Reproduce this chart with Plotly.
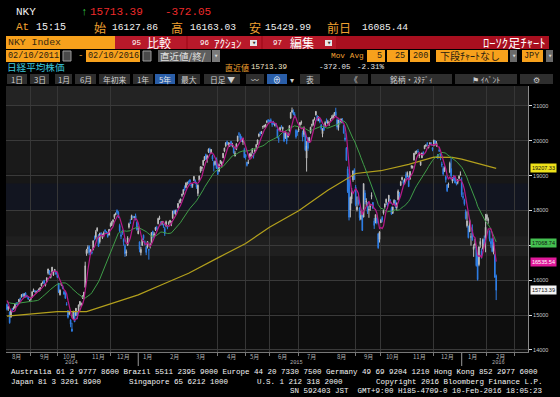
import pandas as pd
import plotly.graph_objects as go

# ---------------- DATA: Nikkei 225 daily (day, open, high, low, close) ----------------
m2014_08 = [(6,15300,15330,15130,15160),(7,15190,15260,15120,15232),(8,15080,15110,14753,14778),
 (11,14950,15140,14920,15130),(12,15180,15200,15100,15161),(13,15180,15250,15150,15213),(14,15200,15330,15190,15314),
 (15,15330,15370,15280,15318),(18,15350,15360,15260,15322),(19,15380,15460,15360,15449),(20,15490,15500,15410,15454),
 (21,15520,15600,15500,15586),(22,15600,15620,15510,15539),(25,15540,15630,15500,15613),(26,15640,15650,15500,15521),
 (27,15540,15580,15500,15534),(28,15510,15520,15430,15459),(29,15420,15440,15380,15425)]
m2014_09 = [(1,15450,15500,15410,15476),(2,15520,15680,15500,15668),(3,15700,15760,15660,15728),(4,15700,15710,15640,15676),
 (5,15650,15700,15620,15668),(8,15710,15720,15650,15705),(9,15680,15760,15670,15749),(10,15720,15800,15700,15788),
 (11,15830,15920,15820,15909),(12,15930,15960,15890,15948),(16,15990,16010,15880,15911),(17,15860,15900,15820,15888),
 (18,15960,16080,15940,16067),(19,16200,16330,16160,16321),(22,16270,16290,16150,16205),(24,16080,16190,16050,16167),
 (25,16240,16380,16210,16374),(26,16150,16260,16120,16229),(29,16270,16320,16230,16310),(30,16230,16270,16150,16173)]
m2014_10 = [(1,16150,16200,16060,16082),(2,15910,15920,15630,15661),(3,15580,15740,15560,15708),(6,15860,15920,15830,15890),
 (7,15830,15860,15740,15783),(8,15670,15700,15590,15595),(9,15640,15670,15470,15478),(10,15320,15370,15270,15300),
 (14,15120,15140,14900,14936),(15,15040,15120,15000,15073),(16,14860,14880,14650,14738),(17,14600,14780,14529,14532),
 (20,14890,15120,14880,15111),(21,15060,15080,14800,14804),(22,14990,15200,14970,15195),(23,15080,15090,14880,14983),
 (24,15120,15300,15080,15291),(27,15300,15400,15240,15388),(28,15280,15360,15250,15329),(29,15490,15560,15460,15553),
 (30,15540,15660,15450,15658),(31,15800,16530,15780,16413)]
m2014_11 = [(4,16760,16900,16700,16862),(5,16900,17000,16770,16937),(6,16970,17000,16720,16792),(7,16800,16890,16720,16880),
 (10,16810,16850,16740,16780),(11,16870,17150,16860,17124),(12,17200,17280,17140,17197),(13,17230,17440,17170,17392),
 (14,17420,17520,17390,17490),(17,17280,17320,16950,16973),(18,17100,17360,17050,17344),(19,17340,17380,17260,17288),
 (20,17220,17340,17180,17300),(21,17320,17400,17280,17357),(25,17430,17460,17360,17407),(26,17390,17410,17330,17383),
 (27,17360,17380,17220,17248),(28,17300,17460,17280,17459)]
m2014_12 = [(1,17570,17650,17520,17590),(2,17570,17700,17550,17663),(3,17680,17750,17620,17720),(4,17800,17890,17750,17887),
 (5,17880,17940,17860,17920),(8,18000,18030,17900,17935),(9,17950,17980,17780,17813),(10,17570,17620,17380,17412),
 (11,17300,17370,17180,17257),(12,17400,17450,17300,17371),(15,17170,17200,16990,17099),(16,16990,17030,16670,16755),
 (17,16780,16880,16690,16819),(18,17000,17260,16990,17210),(19,17520,17650,17480,17621),(22,17660,17750,17620,17635),
 (24,17740,17880,17730,17854),(25,17820,17850,17780,17808),(26,17800,17830,17770,17818),(29,17850,17910,17720,17729),
 (30,17660,17690,17420,17450)]
m2015_01 = [(5,17330,17540,17320,17408),(6,17100,17110,16800,16883),(7,16790,16950,16710,16885),(8,17000,17200,16980,17167),
 (9,17290,17310,17150,17197),(13,17090,17140,17000,17087),(14,16940,16980,16720,16795),(15,16950,17120,16910,17108),
 (16,16880,16900,16590,16864),(19,17000,17080,16910,17014),(20,17100,17370,17070,17366),(21,17400,17420,17200,17280),
 (22,17250,17380,17220,17329),(23,17450,17530,17410,17511),(26,17510,17560,17430,17468),(27,17620,17790,17600,17768),
 (28,17760,17850,17730,17795),(29,17650,17690,17560,17606),(30,17640,17700,17580,17674)]
m2015_02 = [(2,17580,17620,17500,17558),(3,17480,17530,17270,17335),(4,17560,17710,17530,17678),(5,17520,17580,17460,17504),
 (6,17620,17690,17580,17648),(9,17660,17730,17640,17711),(10,17620,17700,17550,17652),(12,17780,17990,17760,17979),
 (13,17990,18020,17890,17913),(16,17910,18020,17860,18004),(17,17990,18030,17950,17987),(18,18080,18210,18060,18199),
 (19,18230,18310,18200,18264),(20,18270,18340,18210,18332),(23,18430,18480,18380,18466),(24,18470,18610,18460,18603),
 (25,18670,18720,18570,18585),(26,18660,18810,18640,18785),(27,18790,18830,18720,18797)]
m2015_03 = [(2,18830,18860,18750,18826),(3,18880,18890,18760,18815),(4,18740,18770,18650,18703),(5,18720,18780,18650,18751),
 (6,18860,18990,18850,18971),(9,18860,18890,18750,18790),(10,18740,18820,18620,18665),(11,18490,18750,18410,18723),
 (12,18870,19000,18830,18991),(13,19120,19270,19080,19254),(16,19200,19260,19130,19246),(17,19300,19450,19280,19437),
 (18,19450,19560,19420,19544),(19,19600,19630,19450,19476),(20,19460,19600,19370,19560),(23,19680,19780,19650,19754),
 (24,19760,19800,19640,19713),(25,19650,19760,19640,19746),(26,19560,19600,19420,19471),(27,19380,19430,19120,19285),
 (30,19320,19430,19290,19411),(31,19470,19520,19190,19206)]
m2015_04 = [(1,19150,19340,19030,19034),(2,19130,19350,19100,19312),(3,19360,19440,19340,19435),(6,19280,19400,19260,19397),
 (7,19510,19650,19500,19640),(8,19700,19800,19670,19789),(9,19850,19960,19810,19937),(10,19970,20006,19880,19907),
 (13,19890,19960,19840,19905),(14,19880,19950,19820,19908),(15,19980,19990,19840,19869),(16,19870,19940,19810,19885),
 (17,19800,19820,19630,19652),(20,19560,19700,19550,19634),(21,19750,19930,19730,19909),(22,19990,20140,19960,20133),
 (23,20200,20250,20090,20187),(24,20170,20200,20000,20020),(27,20080,20130,19970,19983),(28,19960,20070,19880,20058),
 (30,19750,19800,19500,19520)]
m2015_05 = [(1,19600,19620,19460,19531),(7,19380,19400,19260,19291),(8,19360,19460,19330,19379),(11,19500,19640,19480,19620),
 (12,19560,19670,19540,19624),(13,19660,19790,19630,19764),(14,19610,19650,19490,19570),(15,19690,19780,19640,19732),
 (18,19810,19900,19770,19890),(19,19900,20030,19890,20026),(20,20130,20200,20100,20196),(21,20240,20260,20140,20202),
 (22,20230,20280,20190,20264),(25,20400,20420,20340,20413),(26,20410,20450,20370,20437),(27,20400,20480,20380,20472),
 (28,20530,20590,20500,20551),(29,20600,20620,20510,20563)]
m2015_06 = [(1,20580,20600,20520,20569),(2,20600,20640,20530,20543),(3,20500,20550,20400,20473),(4,20510,20570,20460,20488),
 (5,20440,20510,20410,20460),(8,20470,20510,20380,20457),(9,20330,20350,20070,20096),(10,20060,20130,19940,20046),
 (11,20290,20400,20260,20382),(12,20410,20450,20350,20407),(15,20330,20400,20280,20387),(16,20220,20260,19960,19991),
 (17,20080,20250,20050,20219),(18,20120,20200,19900,19990),(19,20110,20240,20090,20174),(22,20280,20450,20260,20428),
 (23,20650,20810,20630,20809),(24,20820,20952,20800,20868),(25,20830,20900,20740,20772),(26,20760,20820,20650,20706),
 (29,20300,20330,20060,20110),(30,20280,20290,20140,20236)]
m2015_07 = [(1,20300,20410,20250,20329),(2,20450,20530,20410,20522),(3,20520,20580,20460,20539),(6,20230,20290,19980,20112),
 (7,20180,20410,20110,20376),(8,20240,20260,19700,19737),(9,19500,19990,19115,19855),(10,20090,20100,19710,19779),
 (13,19970,20110,19940,20089),(14,20230,20400,20200,20385),(15,20440,20490,20390,20463),(16,20470,20610,20430,20600),
 (17,20640,20670,20580,20650),(21,20740,20850,20720,20841),(22,20710,20730,20560,20593),(23,20630,20700,20560,20683),
 (24,20620,20640,20500,20544),(27,20450,20480,20300,20350),(28,20200,20360,20100,20329),(29,20400,20460,20280,20303),
 (30,20420,20560,20400,20522),(31,20600,20640,20500,20585)]
m2015_08 = [(3,20500,20600,20480,20548),(4,20500,20560,20420,20520),(5,20600,20650,20560,20614),(6,20660,20730,20620,20664),
 (7,20650,20760,20620,20724),(10,20750,20820,20700,20808),(11,20830,20946,20700,20720),(12,20600,20640,20320,20392),
 (13,20380,20600,20290,20595),(14,20560,20600,20460,20519),(17,20530,20640,20500,20620),(18,20600,20650,20500,20554),
 (19,20440,20460,20200,20222),(20,20080,20220,19980,20033),(21,19790,19820,19430,19435),(24,19190,19260,18500,18540),
 (25,18880,19060,17714,17806),(26,18010,18400,17800,18376),(27,18330,18640,18200,18574),(28,18880,19140,18820,19136),
 (31,19170,19210,18880,18890)]
m2015_09 = [(1,18670,18730,18120,18165),(2,18020,18400,17970,18095),(3,18300,18410,18140,18182),(4,18070,18090,17710,17792),
 (7,17750,17990,17720,17860),(8,17900,17950,17410,17427),(9,17810,18770,17800,18770),(10,18500,18580,18180,18299),
 (11,18240,18350,18130,18264),(14,18150,18240,17900,17965),(15,18010,18120,17790,18026),(16,18100,18190,17990,18171),
 (17,18400,18520,18320,18432),(18,18230,18240,18040,18070),(24,17700,17780,17470,17571),(25,17690,17880,17630,17880),
 (28,17780,17790,17600,17645),(29,17330,17350,16901,16930),(30,17170,17400,17080,17388)]
m2015_10 = [(1,17650,17760,17640,17722),(2,17800,17840,17660,17725),(5,17920,18030,17880,18005),(6,18100,18200,18050,18186),
 (7,18230,18340,18160,18322),(8,18180,18230,18050,18141),(9,18250,18440,18230,18438),(13,18300,18330,18190,18234),
 (14,18060,18110,17880,17891),(15,17920,18110,17900,18097),(16,18200,18320,18180,18291),(19,18280,18300,18060,18131),
 (20,18080,18230,18000,18207),(21,18310,18600,18290,18554),(22,18470,18530,18340,18435),(23,18720,18850,18700,18825),
 (26,18890,18970,18860,18947),(27,18840,18880,18720,18777),(28,18800,18920,18750,18903),(29,19030,19110,18900,18935),
 (30,19000,19120,18960,19083)]
m2015_11 = [(2,18990,19000,18680,18683),(4,18900,19130,18880,19116),(5,19250,19300,19200,19265),(6,19230,19290,19200,19265),
 (9,19450,19650,19430,19642),(10,19660,19710,19600,19671),(11,19680,19720,19620,19697),(12,19700,19760,19650,19691),
 (13,19560,19640,19500,19596),(16,19300,19420,19280,19393),(17,19510,19660,19500,19649),(18,19650,19700,19580,19649),
 (19,19770,19870,19760,19859),(20,19850,19900,19820,19879),(24,19940,19950,19850,19924),(25,19800,19880,19780,19847),
 (26,19900,19950,19880,19944),(27,19910,19960,19860,19883),(30,19800,19810,19700,19747)]
m2015_12 = [(1,19860,20030,19840,20012),(2,19990,20020,19900,19938),(3,19850,19990,19830,19940),(4,19600,19620,19480,19504),
 (7,19730,19790,19690,19698),(8,19620,19640,19440,19492),(9,19330,19400,19240,19301),(10,19200,19270,19000,19046),
 (11,19120,19260,19100,19230),(14,18970,19000,18800,18883),(15,18730,18760,18530,18565),(16,18740,18800,18650,18756),
 (17,19100,19400,19070,19353),(18,19200,19510,18890,18986),(21,18840,18960,18780,18916),(22,18960,19020,18840,18886),
 (24,18930,18960,18780,18789),(25,18800,18830,18720,18769),(28,18800,18900,18750,18873),(29,18920,19010,18900,18982),
 (30,19020,19120,19000,19034)]
m2016_01 = [(4,18820,18950,18390,18451),(5,18400,18520,18310,18374),(6,18300,18340,18140,18191),(7,17960,18030,17740,17767),
 (8,17560,17980,17510,17698),(12,17550,17560,17200,17219),(13,17390,17760,17380,17716),(14,17240,17350,16990,17241),
 (15,17450,17600,17140,17147),(18,16880,17030,16670,16956),(19,17000,17190,16930,17049),(20,16960,16970,16390,16416),
 (21,16650,16770,15990,16017),(22,16450,16960,16400,16959),(25,17020,17210,16930,17111),(26,16840,16910,16620,16709),
 (27,16900,17200,16880,17164),(28,17180,17280,16990,17042),(29,17210,17900,16800,17518)]
m2016_02 = [(1,17760,17905,17700,17865),(2,17710,17800,17620,17750),(3,17410,17430,17110,17191),(4,17110,17200,16930,17045),
 (5,17180,17220,16800,16820),(8,16830,17100,16740,17004),(9,16720,16750,16070,16085),(10,16128,16163,15430,15713)]

# closes before the window (Jul 1 - Aug 5, 2014) used only to warm up the 5 / 25 day averages
close_prior = [15326,15370,15348,15437,15379,15314,15302,15216,15164,15297,15395,15379,15370,
               15215,15343,15328,15284,15457,15529,15618,15646,15621,15523,15474,15320]

# 200-day moving average
ma200_dates = ["2014-08-06","2014-09-01","2014-10-01","2014-11-04","2014-12-01","2015-01-05","2015-02-02",
               "2015-03-02","2015-04-01","2015-05-01","2015-06-01","2015-07-01","2015-08-03","2015-09-01",
               "2015-10-01","2015-11-02","2015-12-01","2015-12-21","2016-01-04","2016-01-20","2016-02-10"]
ma200_vals = [14970,15040,15100,15100,15330,15580,15890,16200,16640,17050,17520,17990,18580,19060,
              19140,19320,19530,19520,19470,19360,19207]

tag_texts = ["19207.33", "17068.74", "16535.54", "15713.39"]
tag_values = [19207.33, 17068.74, 16535.54, 15713.39]
tag_colors = ["#eee21a", "#44c050", "#e0199a", "#f4f4f4"]
tag_font = ["#111", "#111", "#fff", "#111"]

y_ticks = [14000, 15000, 16000, 17000, 18000, 19000, 20000, 21000]
y_ticktext = ["14000", "15000", "16000", "", "18000", "19000", "20000", "21000"]  # 17000 is hidden under a tag
month_label_dates = pd.date_range("2014-08-01", "2016-02-01", freq="MS") + pd.Timedelta(days=14)
year_labels = [("2014", "2014-10-17"), ("2015", "2015-06-29"), ("2016", "2016-02-12")]

# ---------------- BUILD ----------------
months = [("2014-08", m2014_08), ("2014-09", m2014_09), ("2014-10", m2014_10), ("2014-11", m2014_11),
          ("2014-12", m2014_12), ("2015-01", m2015_01), ("2015-02", m2015_02), ("2015-03", m2015_03),
          ("2015-04", m2015_04), ("2015-05", m2015_05), ("2015-06", m2015_06), ("2015-07", m2015_07),
          ("2015-08", m2015_08), ("2015-09", m2015_09), ("2015-10", m2015_10), ("2015-11", m2015_11),
          ("2015-12", m2015_12), ("2016-01", m2016_01), ("2016-02", m2016_02)]
rows = []
for ym, arr in months:
    for d, o, h, l, c in arr:
        rows.append((pd.Timestamp(f"{ym}-{d:02d}"), o, h, l, c))
df = pd.DataFrame(rows, columns=["date", "open", "high", "low", "close"])

allc = pd.Series(close_prior + df["close"].tolist(), dtype=float)
n0 = len(close_prior)
ma5 = allc.rolling(5).mean().iloc[n0:].values
ma25 = allc.rolling(25).mean().iloc[n0:].values

data_days = set(df["date"])
holidays = [d.strftime("%Y-%m-%d") for d in pd.bdate_range(df["date"].min(), df["date"].max()) if d not in data_days]

W, H = 560, 397
def px(x): return x / W
def py(y): return 1 - y / H

MONO = "Liberation Mono, Noto Sans CJK JP, monospace"
JP = "Noto Sans CJK JP, Liberation Sans, sans-serif"
ORANGE_TXT = "#f0a030"
ORANGE_BOX = "#f7a11c"
BOX_TXT = "#2a2010"

shapes, annos = [], []

def rect(x0, y0, x1, y1, fill, line=None, lw=0):
    shapes.append(dict(type="rect", xref="paper", yref="paper", x0=px(x0), x1=px(x1),
                       y0=py(y1), y1=py(y0), fillcolor=fill,
                       line=dict(color=line or fill, width=lw), layer="above"))

def txt(x, y, s, color="#ffffff", size=10, anchor="left", family=MONO):
    annos.append(dict(xref="paper", yref="paper", x=px(x), y=py(y), text=s, showarrow=False,
                      xanchor=anchor, yanchor="middle", borderpad=0,
                      font=dict(color=color, size=size, family=family)))

# row 1
txt(15, 12, "NKY", "#f2f2f2", 11)
txt(80, 12, "↑", "#33cc44", 11)
txt(89, 12, "15713.39", "#ee2a2a", 11)
txt(164, 12, "-372.05", "#ee2a2a", 11)
# row 2
txt(15, 27, "At", ORANGE_TXT, 11)
txt(35, 27, "15:15", "#f2f2f2", 10)
txt(93, 27, "始", ORANGE_TXT, 12, family=JP)
txt(111, 27, "16127.86", "#f2f2f2", 9.6)
txt(170, 27, "高", ORANGE_TXT, 12, family=JP)
txt(189, 27, "16163.03", "#f2f2f2", 9.6)
txt(248, 27, "安", ORANGE_TXT, 12, family=JP)
txt(264, 27, "15429.99", "#f2f2f2", 9.6)
txt(326, 27, "前日", ORANGE_TXT, 12, family=JP)
txt(361, 27, "16085.44", "#f2f2f2", 9.6)

# row 3: security box + red menu bar
rect(6, 36, 115, 49, ORANGE_BOX)
txt(7, 42.5, "NKY Index", "#3a2a10", 9.8)
rect(115, 36, 549, 49, "#a90f1f")
rect(115, 36, 186, 49, "#b8192a")
rect(188, 36, 261, 49, "#b8192a")
rect(263, 36, 336, 49, "#b8192a")
txt(131, 42.5, "95", "#ffffff", 7.5)
txt(146, 42.5, "比較", "#ffffff", 12, family=JP)
txt(199, 42.5, "96", "#ffffff", 7.5)
txt(213, 42.5, "ｱｸｼｮﾝ", "#ffffff", 11, family=JP)
rect(250, 40, 257, 46, "#e8e8e8")
txt(253.5, 43, "▾", "#333", 7, "center")
txt(272, 42.5, "97", "#ffffff", 7.5)
txt(289, 42.5, "編集", "#ffffff", 12, family=JP)
rect(325, 40, 332, 46, "#e8e8e8")
txt(328.5, 43, "▾", "#333", 7, "center")
txt(547, 42.5, "ﾛｰｿｸ足ﾁｬｰﾄ", "#ffffff", 12.5, "right", JP)

# row 4: dates and options
rect(6, 50, 60, 62, ORANGE_BOX)
txt(7, 56, "02/10/2011", BOX_TXT, 8.5)
rect(63, 51, 71, 61, "#4a4a4a", "#9a9a9a", 1)
txt(77, 56, "-", ORANGE_TXT, 9)
rect(86, 50, 140, 62, ORANGE_BOX)
txt(87, 56, "02/10/2016", BOX_TXT, 8.5)
rect(143, 51, 151, 61, "#4a4a4a", "#9a9a9a", 1)
rect(158, 50, 211, 62, "#5e5e5e")
txt(159, 56, "直近値/終/", "#e0e0e0", 9.5, family=JP)
rect(212, 50, 220, 62, "#7a7a7a")
txt(216, 56, "▾", "#ddd", 7, "center")
txt(330, 56, "Mov Avg", ORANGE_TXT, 7.8)
rect(367, 50, 385, 62, ORANGE_BOX)
txt(383, 56, "5", BOX_TXT, 8.5, "right")
rect(387, 50, 408, 62, ORANGE_BOX)
txt(406, 56, "25", BOX_TXT, 8.5, "right")
rect(410, 50, 430, 62, ORANGE_BOX)
txt(429, 56, "200", BOX_TXT, 8.5, "right")
rect(436, 50, 508, 62, ORANGE_BOX)
txt(439, 56, "下段ﾁｬｰﾄなし", BOX_TXT, 10, family=JP)
rect(510, 50, 517, 62, "#6a6a6a")
txt(513.5, 56, "▾", "#ddd", 7, "center")
rect(522, 50, 543, 62, ORANGE_BOX)
txt(523, 56, "JPY", BOX_TXT, 8.5)
rect(546, 50, 553, 62, "#6a6a6a")
txt(549.5, 56, "▾", "#ddd", 7, "center")

# row 5
txt(6, 67.3, "日経平均株価", "#3cc8dc", 9.6, family=JP)
txt(224, 67.3, "直近値", ORANGE_TXT, 8, family=JP)
txt(250, 67.3, "15713.39", "#f4e6c8", 7.5)
txt(318, 67.3, "-372.05", "#e8e8e8", 7.5)
txt(356, 67.3, "-2.31%", "#e8e8e8", 7.5)

# row 6: buttons
BTN = "#2e2e2e"
for (x0, x1, lab, sel) in [(7, 27, "1日", False), (30, 49, "3日", False), (55, 72, "1月", False),
                           (75, 96, "6月", False), (99, 130, "年初来", False), (133, 153, "1年", False),
                           (155, 175, "5年", True), (178, 200, "最大", False), (204, 240, "日足 ▼", False),
                           (246, 264, "〰", False), (300, 320, "表", False), (340, 368, "《", False),
                           (371, 452, "銘柄・ｽﾀﾃﾞｨ", False), (455, 517, "⚑ ｲﾍﾞﾝﾄ", False), (520, 553, "⚙", False)]:
    rect(x0, 74, x1, 84, "#2a5ea8" if sel else BTN)
    txt((x0 + x1) / 2, 79.6, lab, "#e6e6e6" if sel else "#cfcfcf", 7.8, "center", JP)
rect(267, 74, 287, 84, "#2a5ea8")
txt(277, 79.6, "⊕", "#ffffff", 7.8, "center", JP)
txt(292, 79.6, "▾", "#cfcfcf", 7.8, "center", JP)

# plot background bands (value ranges)
for (v0, v1, col) in [(21000, 21600, "#232323"), (20057, 21000, "#1c1c1c"), (19057, 20057, "#1a1a1a"),
                      (18771, 19057, "#171717"), (18000, 18771, "#121520"), (17257, 18000, "#1a1a1a"),
                      (16686, 17257, "#1f1f1f"), (16000, 16686, "#171717"), (15057, 16000, "#131313"),
                      (13900, 15057, "#0e0e0e")]:
    shapes.append(dict(type="rect", xref="paper", yref="y", x0=px(6), x1=px(528), y0=v0, y1=v1,
                       fillcolor=col, line=dict(width=0), layer="below"))

# year separators under the x axis
for d in ["2015-01-01", "2016-01-01"]:
    shapes.append(dict(type="line", xref="x", yref="paper", x0=d, x1=d, y0=py(366), y1=py(353),
                       line=dict(color="#9a9a9a", width=1), layer="above"))

# month / year labels
for d in month_label_dates:
    annos.append(dict(xref="x", yref="paper", x=d, y=py(356), text=f"{d.month}月", showarrow=False,
                      xanchor="center", yanchor="middle", borderpad=0,
                      font=dict(color="#b0b0b0", size=6, family=JP)))
for lab, d in year_labels:
    annos.append(dict(xref="x", yref="paper", x=d, y=py(363), text=lab, showarrow=False,
                      xanchor="center", yanchor="middle", borderpad=0,
                      font=dict(color="#b0b0b0", size=5.3, family=MONO)))

# price tags on the right axis
for t, v, c, fc in zip(tag_texts, tag_values, tag_colors, tag_font):
    annos.append(dict(xref="paper", yref="y", x=px(530), y=v, text=t, showarrow=False, xanchor="left",
                      yanchor="middle", bgcolor=c, borderpad=1,
                      font=dict(color=fc, size=5.5, family="Liberation Sans, sans-serif")))

# footer
FC, FS = "#f4f4f4", 7.5
txt(10, 372, "Australia 61 2 9777 8600 Brazil 5511 2395 9000 Europe 44 20 7330 7500 Germany 49 69 9204 1210 Hong Kong 852 2977 6000", FC, FS)
txt(10, 381.5, "Japan 81 3 3201 8900", FC, FS)
txt(128, 381.5, "Singapore 65 6212 1000", FC, FS)
txt(256, 381.5, "U.S. 1 212 318 2000", FC, FS)
txt(375, 381.5, "Copyright 2016 Bloomberg Finance L.P.", FC, FS)
txt(289, 391, "SN 592403 JST  GMT+9:00 H185-4709-0 10-Feb-2016 18:05:23", FC, FS)

fig = go.Figure()
fig.add_trace(go.Candlestick(
    x=df["date"], open=df["open"], high=df["high"], low=df["low"], close=df["close"],
    increasing=dict(line=dict(color="#bdbdbd", width=1), fillcolor="#e8e8e8"),
    decreasing=dict(line=dict(color="#2f7fe8", width=1), fillcolor="#2f7fe8"),
    whiskerwidth=0, showlegend=False, hoverinfo="skip"))
fig.add_trace(go.Scatter(x=ma200_dates, y=ma200_vals, mode="lines",
                         line=dict(color="#b3a01c", width=1.2), showlegend=False, hoverinfo="skip"))
fig.add_trace(go.Scatter(x=df["date"], y=ma25, mode="lines",
                         line=dict(color="#3f9e48", width=1), showlegend=False, hoverinfo="skip"))
fig.add_trace(go.Scatter(x=df["date"], y=ma5, mode="lines",
                         line=dict(color="#b8198a", width=1.2), showlegend=False, hoverinfo="skip"))

fig.update_layout(
    width=W, height=H, autosize=False,
    margin=dict(l=0, r=0, t=0, b=0),
    paper_bgcolor="#000000", plot_bgcolor="#181818",
    showlegend=False, hovermode=False,
    shapes=shapes, annotations=annos,
    xaxis=dict(domain=[px(6), px(528)], type="date",
               range=["2014-08-05 06:00", "2016-03-15"],
               rangebreaks=[dict(bounds=["sat", "mon"]), dict(values=holidays)],
               rangeslider=dict(visible=False),
               tickvals=pd.date_range("2014-09-01", "2016-03-01", freq="MS"),
               showticklabels=False, ticks="outside", ticklen=3, tickcolor="#777",
               showgrid=True, gridcolor="#363636", gridwidth=1,
               showline=True, linecolor="#777", linewidth=1, zeroline=False, fixedrange=True),
    yaxis=dict(domain=[py(352), py(86)], side="right", range=[13940, 21570],
               tickvals=y_ticks, ticktext=y_ticktext,
               ticks="outside", ticklen=3, tickcolor="#dddddd",
               tickfont=dict(color="#c8c8c8", size=5.5, family="Liberation Sans, sans-serif"),
               showgrid=True, gridcolor="#3a3a3a", gridwidth=1,
               showline=True, linecolor="#8a8a8a", linewidth=1, zeroline=False, fixedrange=True),
)

fig.write_html("out.html", config={"displayModeBar": False, "staticPlot": True},
               post_script="document.body.style.margin='0';")
